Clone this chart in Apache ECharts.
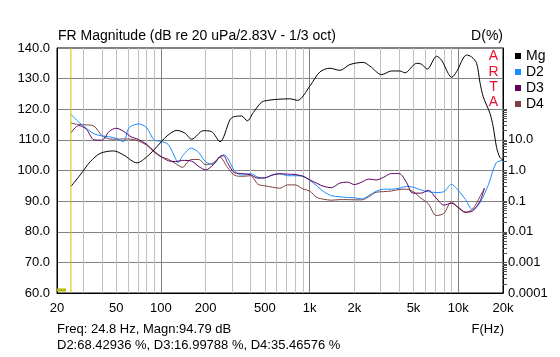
<!DOCTYPE html>
<html><head><meta charset="utf-8">
<script src="https://cdn.jsdelivr.net/npm/echarts@6/dist/echarts.min.js"></script>
<style>html,body{margin:0;padding:0;background:#fff}#c{width:560px;height:357px}</style>
</head><body><div id="c"></div>
<script>
// ---- data ----
const xLabelValues = [20, 50, 100, 200, 500, 1000, 2000, 5000, 10000, 20000];
const xMinorGrid = [30, 40, 50, 60, 70, 80, 90, 200, 300, 400, 500, 600, 700, 800, 900,
  2000, 3000, 4000, 5000, 6000, 7000, 8000, 9000];
const xMajorGrid = [100, 1000, 10000];
const dLabelValues = [0.0001, 0.001, 0.01, 0.1, 1, 10];
const cursorFreq = 24.8;
const cursorLine = [[cursorFreq, 60], [cursorFreq, 140]];
const cursorMark = [[20, 61], [23, 61]];

// Mg: [Hz, dB]
const mg = [[24.8,94.79],[28.7,98.6],[33.5,102.9],[39.1,105.6],[48,106.4],[56,105.1],[69,102.5],[81,104.6],
  [94,107.8],[110,111.3],[128,113.1],[145,112.2],[161,110.2],[193,113.0],[219,112.7],[250,109.4],[291,116.5],
  [307,117.5],[349,117.8],[381,116.2],[418,118.9],[476,122.3],[541,123.0],[632,123.3],[738,123.4],[830,122.9],
  [1005,127.6],[1174,132.2],[1371,133.4],[1600,132.7],[1868,134.6],[2296,135.3],[2547,134.1],[3053,131.3],
  [3562,132.5],[4052,132.5],[4378,131.9],[5248,135.0],[5672,134.7],[6186,133.1],[7154,137.3],[7730,136.0],
  [8561,131.7],[9022,130.4],[9750,132.3],[11380,137.7],[12300,137.1],[13290,135.0],[13990,128.8],[14720,124.1],
  [16330,118.7],[17180,114.3],[18110,107.5],[19060,104.3],[20000,103.4]];

// D2, D3, D4: [Hz, %]
const d2 = [[24.8,68.43],[28,38.0],[31.5,24.0],[35.5,15.85],[40,13.5],[45,12.6],[50,11.2],[56,8.71],[60,21.4],
  [63,28.2],[71,33.1],[80,25.1],[90,10.0],[100,8.91],[112,7.08],[125,2.51],[130,1.78],[140,3.02],[160,5.37],
  [180,3.80],[200,1.91],[224,1.585],[250,2.88],[265,3.24],[280,2.63],[315,0.933],[355,0.708],[400,0.794],
  [450,0.603],[500,0.575],[560,0.708],[630,0.794],[710,0.676],[800,0.676],[900,0.661],[1000,0.479],[1120,0.316],
  [1250,0.200],[1400,0.151],[1600,0.138],[1800,0.132],[2000,0.129],[2240,0.118],[2500,0.151],[2800,0.209],
  [3150,0.245],[3550,0.245],[4000,0.263],[4500,0.302],[5000,0.282],[5600,0.234],[6300,0.204],[7100,0.191],
  [8000,0.204],[9000,0.355],[10000,0.224],[11200,0.112],[12500,0.052],[14000,0.089],[16000,0.355],
  [18000,1.78],[20000,2.14]];
const d3 = [[24.8,17.0],[28,29.5],[31.5,22.4],[35.5,10.0],[40,9.77],[45,19.05],[50,24.0],[56,19.05],[63,12.6],
  [71,10.2],[80,7.24],[90,4.27],[100,2.88],[112,2.09],[125,1.95],[140,2.14],[160,2.04],[180,1.35],[200,1.05],
  [224,1.51],[250,2.88],[265,3.02],[280,1.82],[315,0.832],[355,0.794],[400,0.724],[450,0.562],[500,0.575],
  [560,0.708],[630,0.776],[710,0.759],[800,0.741],[900,0.646],[1000,0.501],[1120,0.380],[1250,0.302],
  [1400,0.275],[1600,0.389],[1800,0.417],[2000,0.347],[2240,0.417],[2500,0.525],[2800,0.490],[3150,0.603],
  [3550,0.794],[4000,0.794],[4500,0.398],[4800,0.200],[5000,0.182],[5600,0.182],[6300,0.224],[7100,0.126],
  [8000,0.0741],[9000,0.0851],[10000,0.0631],[11200,0.0437],[12500,0.0479],[14000,0.100],[15000,0.263]];
const d4 = [[24.8,35.47],[28,31.6],[31.5,30.9],[35.5,28.2],[40,14.1],[45,10.7],[50,10.5],[56,10.7],[63,10.5],
  [71,9.12],[80,6.76],[90,3.98],[100,2.82],[112,2.34],[125,1.70],[140,1.26],[150,1.82],[160,2.29],[180,2.29],
  [200,1.55],[224,1.74],[250,2.69],[280,1.26],[315,0.692],[355,0.646],[400,0.676],[450,0.355],[500,0.316],
  [560,0.288],[630,0.263],[710,0.339],[800,0.339],[900,0.251],[1000,0.214],[1120,0.132],[1250,0.115],
  [1400,0.107],[1600,0.112],[1800,0.112],[2000,0.110],[2240,0.110],[2500,0.138],[2800,0.195],[3150,0.204],
  [3550,0.214],[4000,0.240],[4500,0.245],[5000,0.200],[5600,0.126],[6300,0.0813],[7100,0.0339],[8000,0.0398],
  [9000,0.0955],[10000,0.0603],[11200,0.0427],[12500,0.055],[14000,0.141],[15000,0.263]];

const titleText = 'FR Magnitude (dB re 20 uPa/2.83V - 1/3 oct)';
const readout1 = 'Freq: 24.8 Hz, Magn:94.79 dB';
const readout2 = 'D2:68.42936 %, D3:16.99788 %, D4:35.46576 %';

// right-axis log minor ticks (2..9 per decade)
const dTicks = [];
for (let k = -4; k <= 1; k++) {
  for (let m = 1; m <= 9; m++) {
    const v = m * Math.pow(10, k);
    if (v > 0.0001) dTicks.push(+v.toPrecision(3));
  }
}
dTicks.push(100);

const FONT = 'Liberation Sans, Arial, sans-serif';
const chart = echarts.init(document.getElementById('c'), null, {renderer: 'canvas'});
const fmtX = v => v >= 1000 ? (v / 1000) + 'k' : String(v);
const fmtD = v => v >= 1 ? v.toFixed(1) : String(+v.toPrecision(1));

chart.setOption({
  animation: false,
  backgroundColor: '#fff',
  textStyle: {fontFamily: FONT},
  grid: {left: 57, top: 48, width: 446, height: 245, show: true, borderColor: '#000', borderWidth: 1, backgroundColor: 'transparent'},
  legend: {
    orient: 'vertical', left: 510, top: 44, itemWidth: 6, itemHeight: 6, itemGap: 2, icon: 'rect',
    textStyle: {fontSize: 14, color: '#000', lineHeight: 14, fontFamily: FONT},
    data: ['Mg', 'D2', 'D3', 'D4']
  },
  xAxis: [
    {type: 'log', logBase: 10, min: 20, max: 20000, position: 'bottom',
     axisLine: {show: true, lineStyle: {color: '#000'}},
     axisTick: {show: false, customValues: xMinorGrid},
     axisLabel: {customValues: xLabelValues, formatter: fmtX, fontSize: 13, color: '#000', margin: 9, fontFamily: FONT},
     splitLine: {show: true, lineStyle: {color: '#c0c0c0', width: 1}}},
    {type: 'log', logBase: 10, min: 20, max: 20000, position: 'top',
     axisLine: {show: false}, axisLabel: {show: false},
     axisTick: {show: false, customValues: xMajorGrid},
     splitLine: {show: true, lineStyle: {color: '#808080', width: 1}}}
  ],
  yAxis: [
    {type: 'value', min: 60, max: 140, interval: 10, position: 'left',
     axisLine: {show: true, lineStyle: {color: '#000'}}, axisTick: {show: false},
     axisLabel: {formatter: v => v.toFixed(1), fontSize: 13, color: '#000', margin: 7, fontFamily: FONT},
     splitLine: {show: true, lineStyle: {color: '#808080', width: 1}}},
    {type: 'log', logBase: 10, min: 0.0001, max: 10000, position: 'right',
     axisLine: {show: true, lineStyle: {color: '#000'}},
     axisTick: {show: true, customValues: dTicks, length: 4, inside: false, lineStyle: {color: '#505050'}},
     axisLabel: {customValues: dLabelValues, formatter: fmtD, fontSize: 13, color: '#000', margin: 5, fontFamily: FONT},
     splitLine: {show: false}}
  ],
  series: [
    {type: 'line', data: cursorLine, xAxisIndex: 0, yAxisIndex: 0, showSymbol: false, silent: true,
     lineStyle: {color: '#c8c800', width: 1}, itemStyle: {color: '#c8c800'}, z: 6},
    {type: 'line', data: cursorMark, xAxisIndex: 0, yAxisIndex: 0, showSymbol: false, silent: true,
     lineStyle: {color: '#b8b800', width: 3}, itemStyle: {color: '#b8b800'}, z: 6},
    {name: 'Mg', type: 'line', data: mg, xAxisIndex: 0, yAxisIndex: 0, showSymbol: false, smooth: 0.3,
     lineStyle: {color: '#000', width: 1}, itemStyle: {color: '#000'}, z: 5},
    {name: 'D2', type: 'line', data: d2, xAxisIndex: 0, yAxisIndex: 1, showSymbol: false, smooth: 0.3,
     lineStyle: {color: '#1a8cff', width: 1}, itemStyle: {color: '#1a8cff'}, z: 4},
    {name: 'D3', type: 'line', data: d3, xAxisIndex: 0, yAxisIndex: 1, showSymbol: false, smooth: 0.3,
     lineStyle: {color: '#600060', width: 1}, itemStyle: {color: '#600060'}, z: 4},
    {name: 'D4', type: 'line', data: d4, xAxisIndex: 0, yAxisIndex: 1, showSymbol: false, smooth: 0.3,
     lineStyle: {color: '#804040', width: 1}, itemStyle: {color: '#804040'}, z: 3}
  ],
  graphic: [
    {type: 'text', left: 58, top: 29, style: {text: titleText, fontSize: 14, fill: '#000', fontFamily: FONT}},
    {type: 'text', right: 57, top: 29, style: {text: 'D(%)', fontSize: 14, fill: '#000', fontFamily: FONT}},
    {type: 'text', right: 56, top: 323, style: {text: 'F(Hz)', fontSize: 13, fill: '#000', fontFamily: FONT}},
    {type: 'text', left: 57, top: 323, style: {text: readout1, fontSize: 13, fill: '#000', fontFamily: FONT}},
    {type: 'text', left: 57, top: 339, style: {text: readout2, fontSize: 13, fill: '#000', fontFamily: FONT}},
    {type: 'text', x: 493.5, y: 56, style: {text: 'A', fontSize: 14, fill: '#e8102c', align: 'center', verticalAlign: 'middle', fontFamily: FONT}},
    {type: 'text', x: 493.5, y: 72, style: {text: 'R', fontSize: 14, fill: '#e8102c', align: 'center', verticalAlign: 'middle', fontFamily: FONT}},
    {type: 'text', x: 493.5, y: 87.5, style: {text: 'T', fontSize: 14, fill: '#e8102c', align: 'center', verticalAlign: 'middle', fontFamily: FONT}},
    {type: 'text', x: 493.5, y: 102, style: {text: 'A', fontSize: 14, fill: '#e8102c', align: 'center', verticalAlign: 'middle', fontFamily: FONT}}
  ]
});
</script>
</body></html>
